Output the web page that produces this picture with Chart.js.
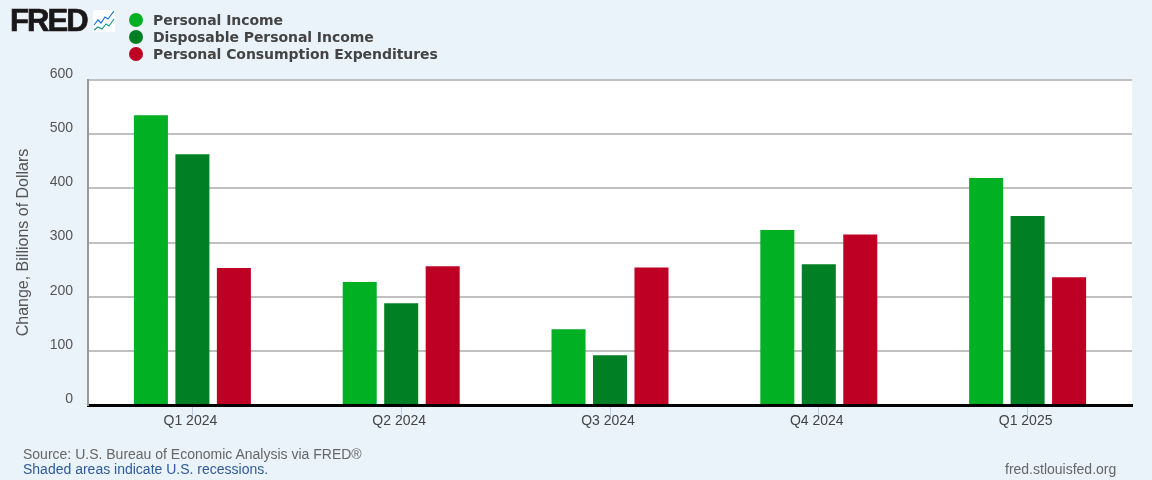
<!DOCTYPE html>
<html>
  <head>
    <meta charset="utf-8">
    <title>FRED - Personal Income</title>
    <script src="https://cdn.jsdelivr.net/npm/chart.js@4/dist/chart.umd.min.js"></script>
    <style media="screen">
    html, body {
      margin: 0;
      padding: 0;
      background: #eaf2fa;
    }
    #wrap {
      position: relative;
      width: 1152px;
      height: 480px;
      overflow: hidden;
      font-family: "Liberation Sans", Arial, sans-serif;
    }
    canvas { position: absolute; left: 0; top: 0; }
    .logo {
      position: absolute; left: 10px; top: 2px;
      font: bold 31px/38px "Liberation Sans", Arial, sans-serif;
      letter-spacing: -1.9px;
      -webkit-text-stroke: 0.7px #1a1718;
      color: #1a1718;
    }
    .icon { position: absolute; left: 93px; top: 10px; }
    #legend { position: absolute; left: 129px; top: 12px; }
    #legend div {
      height: 17px;
      font: bold 14px/17px "DejaVu Sans", sans-serif;
      letter-spacing: -0.06px;
      color: #444;
      white-space: nowrap;
    }
    #legend span {
      display: inline-block;
      width: 14px; height: 14px;
      border-radius: 50%;
      margin-right: 10px;
      vertical-align: -2px;
    }
    .note { position: absolute; font-size: 14px; line-height: 16px; color: #666; white-space: nowrap; }
    </style>
  </head>
  <body>
    <div id="wrap">
      <canvas id="myChart" width="1152" height="480"></canvas>
      <div class="logo">FRED</div>
      <svg class="icon" width="22" height="22" viewBox="0 0 22 22">
        <rect width="22" height="22" rx="2" fill="#fff"/>
        <polyline points="1,15 5,10 8,13 12,7 15,9 21,1" fill="none" stroke="#1a73d8" stroke-width="1.2"/>
        <polyline points="1,20 5,17 9,19 13,14 16,16 21,9" fill="none" stroke="#1a9a8a" stroke-width="1.2"/>
      </svg>
      <div id="legend"></div>
      <div class="note" style="left:23px;top:446px">Source: U.S. Bureau of Economic Analysis via FRED®</div>
      <div class="note" style="left:23px;top:461px;color:#2f5a9a">Shaded areas indicate U.S. recessions.</div>
      <div class="note" style="left:1005px;top:461px">fred.stlouisfed.org</div>
    </div>

    <script>
      const quarters = ['Q1 2024', 'Q2 2024', 'Q3 2024', 'Q4 2024', 'Q1 2025'];
      const personalIncome = [535, 227, 140, 323, 419];
      const disposableIncome = [463, 188, 92, 260, 349];
      const consumption = [253, 256, 254, 315, 236];
      const yTicks = [0, 100, 200, 300, 400, 500, 600];

      const green = '#02b024';
      const darkGreen = '#007f24';
      const red = '#bf0025';

      const names = ['Personal Income', 'Disposable Personal Income', 'Personal Consumption Expenditures'];
      const colors = [green, darkGreen, red];
      const values = [personalIncome, disposableIncome, consumption];

      names.forEach((n, i) => {
        const row = document.createElement('div');
        const dot = document.createElement('span');
        dot.style.background = colors[i];
        row.appendChild(dot);
        row.appendChild(document.createTextNode(n));
        document.getElementById('legend').appendChild(row);
      });

      // white plot background
      const plotBg = {
        id: 'plotBg',
        beforeDraw(chart) {
          const a = chart.chartArea;
          chart.ctx.fillStyle = '#fff';
          chart.ctx.fillRect(a.left, a.top, a.width, a.height);
        }
      };

      Chart.defaults.font.family = '"Liberation Sans", Arial, sans-serif';
      Chart.defaults.font.size = 14;
      Chart.defaults.color = '#555';

      new Chart(document.getElementById('myChart'), {
        type: 'bar',
        plugins: [plotBg],
        data: {
          labels: quarters,
          datasets: names.map((n, i) => ({
            label: n,
            data: values[i],
            backgroundColor: colors[i],
            categoryPercentage: 0.596,
            barPercentage: 0.82
          }))
        },
        options: {
          responsive: false,
          animation: false,
          layout: { padding: { top: 80, right: 20, left: 0, bottom: 0 } },
          plugins: { legend: { display: false }, tooltip: { enabled: false } },
          scales: {
            x: {
              afterFit(scale) { scale.height = 75; },
              grid: { offset: false, drawOnChartArea: false, tickLength: 11, tickColor: '#bccde6', tickWidth: 1 },
              border: { color: '#000', width: 3 },
              ticks: { padding: -3, color: '#444', maxRotation: 0, labelOffset: -2 }
            },
            y: {
              min: 0,
              max: 600,
              afterFit(scale) { scale.width = 88; },
              afterBuildTicks(scale) { scale.ticks = yTicks.map(v => ({ value: v })); },
              grid: { color: '#c0c0c0', lineWidth: 2, drawTicks: false },
              border: { color: '#999', width: 2 },
              ticks: { padding: 15, labelOffset: -6 },
              title: {
                display: true,
                text: 'Change, Billions of Dollars',
                color: '#555',
                font: { size: 16 },
                padding: { top: 14, bottom: 0 }
              }
            }
          }
        }
      });
    </script>
  </body>
</html>
